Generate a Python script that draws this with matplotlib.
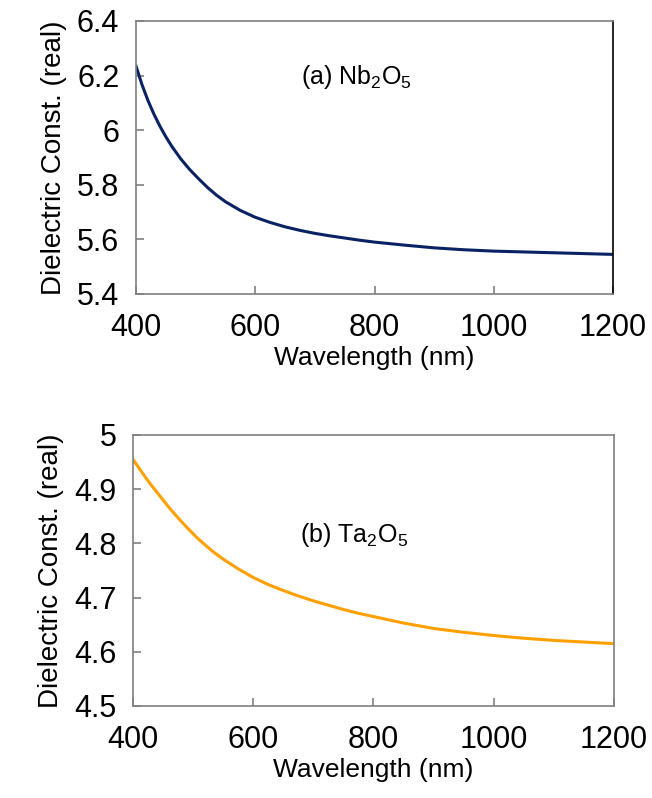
import matplotlib
matplotlib.use("Agg")
import matplotlib.pyplot as plt

plt.rcParams['font.family'] = ['Liberation Sans', 'DejaVu Sans']
plt.rcParams['mathtext.fontset'] = 'custom'
plt.rcParams['mathtext.rm'] = 'Liberation Sans'
plt.rcParams['mathtext.it'] = 'Liberation Sans'

# wavelength (nm)
wavelength = [400, 410, 420, 430, 440, 450, 460, 475, 490, 505, 520, 535,
              550, 575, 600, 625, 650, 675, 700, 725, 750, 775, 800, 850,
              900, 950, 1000, 1050, 1100, 1150, 1200]

# (a) Nb2O5 real dielectric constant
eps_nb2o5 = [6.235, 6.167, 6.109, 6.059, 6.015, 5.976, 5.941, 5.895, 5.856,
             5.822, 5.790, 5.762, 5.738, 5.706, 5.681, 5.662, 5.646, 5.633,
             5.622, 5.613, 5.605, 5.597, 5.590, 5.579, 5.569, 5.562, 5.557,
             5.554, 5.551, 5.548, 5.545]

# (b) Ta2O5 real dielectric constant
eps_ta2o5 = [4.955, 4.939, 4.923, 4.908, 4.894, 4.880, 4.866, 4.847, 4.829,
             4.812, 4.797, 4.783, 4.771, 4.753, 4.737, 4.724, 4.713, 4.703,
             4.694, 4.686, 4.678, 4.671, 4.665, 4.653, 4.643, 4.636, 4.630,
             4.625, 4.621, 4.618, 4.615]

x_ticks = [400, 600, 800, 1000, 1200]
y_ticks_a = [5.4, 5.6, 5.8, 6.0, 6.2, 6.4]
y_labels_a = ["5.4", "5.6", "5.8", "6", "6.2", "6.4"]
y_ticks_b = [4.5, 4.6, 4.7, 4.8, 4.9, 5.0]
y_labels_b = ["4.5", "4.6", "4.7", "4.8", "4.9", "5"]

spine_col = "#808080"


def style_axis(ax, yticks, ylabels, ylim):
    ax.set_xlim(400, 1200)
    ax.set_ylim(*ylim)
    ax.set_xticks(x_ticks)
    ax.set_xticklabels([str(t) for t in x_ticks])
    ax.set_yticks(yticks)
    ax.set_yticklabels(ylabels)
    for s in ax.spines.values():
        s.set_color(spine_col)
        s.set_linewidth(1.2)
    ax.tick_params(direction='in', length=6, width=1.2, color=spine_col,
                   labelsize=22, top=False, right=False)
    ax.tick_params(axis='x', pad=14)
    ax.tick_params(axis='y', pad=12)
    ax.set_xlabel("Wavelength (nm)", fontsize=19, labelpad=2)
    ax.set_ylabel("Dielectric Const. (real)", fontsize=20, labelpad=7)


fig = plt.figure(figsize=(6.52, 7.98), dpi=100)

ax1 = fig.add_axes([0.2086, 0.6316, 0.7316, 0.3421])
ax1.plot(wavelength, eps_nb2o5, color="#0a2263", lw=2.2,
         solid_joinstyle='round')
style_axis(ax1, y_ticks_a, y_labels_a, (5.4, 6.4))
ax1.spines['right'].set_color('black')
ax1.text(0.463, 0.795, r"(a) Nb$_2$O$_5$", transform=ax1.transAxes,
         ha='center', va='center', fontsize=18)

ax2 = fig.add_axes([0.2040, 0.1153, 0.7377, 0.3396])
ax2.plot(wavelength, eps_ta2o5, color="#ffa000", lw=2.2,
         solid_joinstyle='round')
style_axis(ax2, y_ticks_b, y_labels_b, (4.5, 5.0))
ax2.text(0.46, 0.63, r"(b) Ta$_2$O$_5$", transform=ax2.transAxes,
         ha='center', va='center', fontsize=18)

fig.savefig("out.png", dpi=100)
